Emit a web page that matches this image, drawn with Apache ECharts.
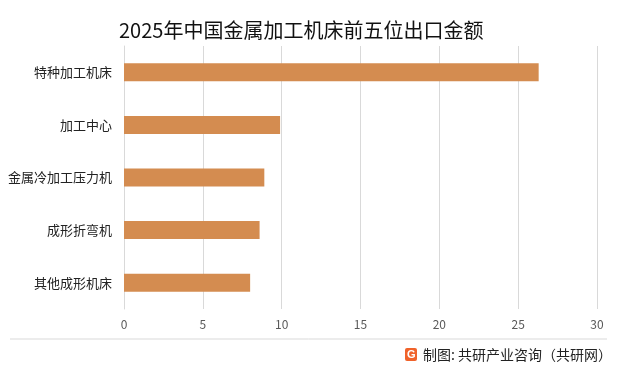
<!DOCTYPE html>
<html><head><meta charset="utf-8">
<script src="https://cdn.jsdelivr.net/npm/echarts@6/dist/echarts.min.js"></script>
<style>html,body{margin:0;padding:0;background:#fff}#c{width:617px;height:367px}</style>
</head><body><div id="c"></div>
<script>
const categories = ['特种加工机床','加工中心','金属冷加工压力机','成形折弯机','其他成形机床'];
const values = [26.3, 9.9, 8.9, 8.6, 8.0];
const xTicks = {min: 0, max: 30, interval: 5};
const titleText = '2025年中国金属加工机床前五位出口金额';
const sourceText = '制图: 共研产业咨询（共研网）';

const chart = echarts.init(document.getElementById('c'), null, {renderer: 'canvas'});
const font = '"Noto Sans CJK SC", "Microsoft YaHei", sans-serif';
chart.setOption({
  animation: false,
  title: {text: titleText, left: 114, top: 15,
    textStyle: {fontFamily: font, fontSize: 20, fontWeight: 'normal', color: '#111'}},
  grid: {left: 124, right: 20, top: 46, bottom: 58},
  xAxis: {type: 'value', min: xTicks.min, max: xTicks.max, interval: xTicks.interval,
    axisLine: {show: false}, axisTick: {show: false},
    axisLabel: {color: '#595959', fontSize: 12, fontFamily: font, margin: 9},
    splitLine: {lineStyle: {color: '#d9d9d9', width: 1}}},
  yAxis: {type: 'category', data: categories, inverse: true,
    axisLine: {show: true, lineStyle: {color: '#d9d9d9'}}, axisTick: {show: false},
    axisLabel: {color: '#222', fontSize: 13, fontFamily: font, margin: 12}},
  series: [{type: 'bar', data: values, barWidth: 18,
    itemStyle: {color: '#D48C50'}}],
  graphic: [
    {type: 'line', shape: {x1: 10, y1: 339, x2: 607, y2: 339}, style: {stroke: '#d9d9d9', lineWidth: 1}},
    {type: 'rect', shape: {x: 405, y: 348, width: 12, height: 13, r: 2}, style: {fill: '#F0622A'}},
    {type: 'text', style: {x: 407, y: 349, text: 'G', fill: '#fff', font: 'bold 11px sans-serif'}},
    {type: 'text', style: {x: 423, y: 355, text: sourceText, fill: '#222', textAlign: 'left', textVerticalAlign: 'middle', font: '14px ' + font}}
  ]
});
</script></body></html>
